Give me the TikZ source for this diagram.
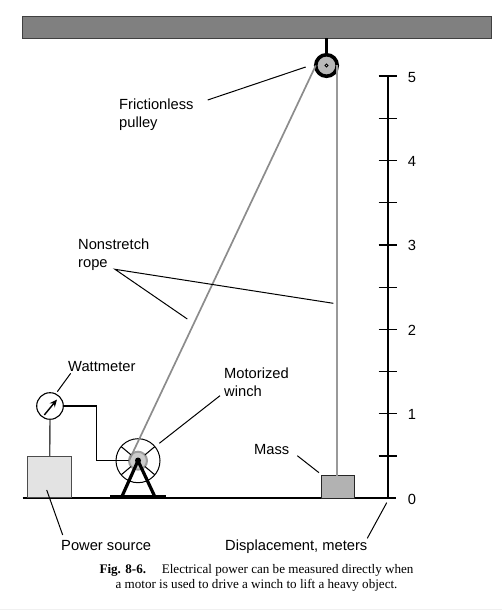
\documentclass[tikz,border=0pt]{standalone}
\usepackage{fontspec}
\setmainfont{Liberation Sans}
\newfontfamily\capfont{Liberation Serif}
\usetikzlibrary{arrows.meta}
\definecolor{beamgray}{RGB}{128,128,128}
\definecolor{ropegray}{RGB}{140,140,140}

\begin{document}
\begin{tikzpicture}[
    x=1pt, y=-1pt,
    label/.style={inner sep=0pt, anchor=base west, align=left,
                  font=\fontsize{14.7}{18}\selectfont},
    ticklabel/.style={inner sep=0pt, anchor=base, font=\fontsize{14.7}{18}\selectfont},
    leader/.style={draw=black, line width=1pt},
    rope/.style={draw=ropegray, line width=1.7pt},
    wire/.style={draw=black, line width=1.05pt},
    leg/.style={draw=black, line width=3.2pt},
    tick/.style={draw=black, line width=1.3pt}
]
\useasboundingbox (0,0) rectangle (502,610);

%% ── Ceiling and ground ──
\node[rectangle, draw=black!75, fill=beamgray, line width=1.4pt, minimum width=469pt,
      minimum height=22pt, inner sep=0pt, outer sep=0pt] (beam) at (256.8,27.5) {};
\coordinate (groundL) at (22.7,498.3);
\coordinate (groundR) at (396,498.3);
\draw[draw=black, line width=2.3pt] (groundL) -- (groundR);

%% ── Boxes on the ground ──
\node[rectangle, draw=black!70, fill=gray!22, line width=1.2pt, minimum width=44pt,
      minimum height=40.5pt, inner sep=0pt, outer sep=0pt] (source) at (49.7,477) {};
\node[rectangle, draw=black!85, fill=gray!60, line width=1.1pt, minimum width=32.5pt,
      minimum height=22.5pt, inner sep=0pt, outer sep=0pt] (mass) at (337.8,486.8) {};

%% ── Winch ──
\node[circle, draw=black, line width=1pt, minimum size=44pt, inner sep=0pt,
      outer sep=0pt] (winch) at (138,460.7) {};
\node[circle, draw=gray!75, fill=gray!40, line width=2pt, minimum size=18pt, inner sep=0pt,
      outer sep=0pt] (hub) at (138,460.7) {};
\foreach \ang in {40,140,220,320} {
  \draw[wire] (hub.\ang) -- (winch.\ang);
}
\coordinate (legL) at (121.7,497);
\coordinate (legR) at (155,497);
\coordinate (footL) at (110,496.3);
\coordinate (footR) at (166,496.3);
\draw[draw=black, line width=1.8pt] (footL) -- (footR);
\draw[leg] (hub.center) -- (legL);
\draw[leg] (hub.center) -- (legR);
\node[circle, fill=black, minimum size=6pt, inner sep=0pt] (axle) at (138,460.5) {};

%% ── Wattmeter ──
\node[circle, draw=black, fill=white, line width=1.1pt, minimum size=26.6pt, inner sep=0pt,
      outer sep=0pt] (meter) at (50,406) {};
\coordinate (needleA) at (44.3,415);
\coordinate (needleB) at (57,399.5);
\draw[-{Stealth[length=7.5pt,width=6.5pt]}, line width=1.4pt] (needleA) -- (needleB);
\draw[draw=black!70, line width=1.4pt] (meter.south) -- (source.north);
\draw[wire] (meter.east) -| (96.7,460.7) -- (hub.west);

%% ── Pulley and ropes ──
\node[circle, draw=black, fill=gray!55, line width=3.6pt, minimum size=21.5pt, inner sep=0pt,
      outer sep=0pt] (pulley) at (326.5,65.5) {};
\node[circle, draw=black, fill=gray!30, line width=0.9pt, minimum size=3.2pt, inner sep=0pt]
      (pin) at (326.5,65.5) {};
\draw[draw=black, line width=3pt] (beam.south -| pulley) -- (pulley.north);
\draw[rope] (hub.west) -- (pulley.west);
\draw[rope, draw=gray!80] (pulley.east) -- (pulley.east |- mass.north);

%% ── Scale ──
\coordinate (scaleTop) at (388,76);
\coordinate (scaleBot) at (388,498.3);
\draw[draw=black, line width=1.4pt] (scaleTop) -- (scaleBot);
\foreach \i in {1,...,10} {
  \coordinate (T\i) at (388,{498.3-42.23*\i});
  \draw[tick] ([xshift=-9.5pt]T\i) -- ([xshift=9pt]T\i);
}
\foreach \n in {0,...,5} {
  \node[ticklabel] (L\n) at (412,{504-84.4*\n}) {\n};
}

%% ── Labels ──
\node[label] (lblPulley) at (119,127) {Frictionless\\pulley};
\node[label] (lblRope) at (78,267) {Nonstretch\\rope};
\node[label] (lblMeter) at (68,371) {Wattmeter};
\node[label] (lblWinch) at (224,396) {Motorized\\winch};
\node[label] (lblMass) at (254,454) {Mass};
\node[label] (lblSource) at (61,550) {Power source};
\node[label] (lblScale) at (225,550) {Displacement, meters};

%% ── Leader lines ──
\coordinate (a1) at (207.7,100);   \coordinate (a2) at (305.7,67);
\coordinate (b1) at (115,269.3);   \coordinate (b2) at (333.3,303.3);
\coordinate (b3) at (187.3,319);
\coordinate (c1) at (70.7,373.3);  \coordinate (c2) at (57.3,391.7);
\coordinate (d1) at (220,395.7);   \coordinate (d2) at (159.3,443.3);
\coordinate (e1) at (62.7,535);    \coordinate (e2) at (46.7,490);
\coordinate (f1) at (297.3,455.7); \coordinate (f2) at (319,472.7);
\coordinate (g1) at (367.3,538.3); \coordinate (g2) at (386.7,502.7);
\draw[leader] (a1) -- (a2);
\draw[leader] (b2) -- (b1) -- (b3);
\draw[leader] (c1) -- (c2);
\draw[leader] (d1) -- (d2);
\draw[leader] (e1) -- (e2);
\draw[leader] (f1) -- (f2);
\draw[leader] (g1) -- (g2);

%% ── Caption ──
\node[inner sep=0pt, anchor=center, align=center,
      font=\capfont\fontsize{13.1}{15.5}\selectfont] (caption) at (256.5,578)
      {{\bfseries Fig. 8-6.}\hspace{1.2em}Electrical power can be measured directly when\\
       a motor is used to drive a winch to lift a heavy object.};
\coordinate (edgeL) at (0,609.5);
\coordinate (edgeR) at (502,609.5);
\draw[draw=gray!12, line width=1pt] (edgeL) -- (edgeR);

\end{tikzpicture}
\end{document}
